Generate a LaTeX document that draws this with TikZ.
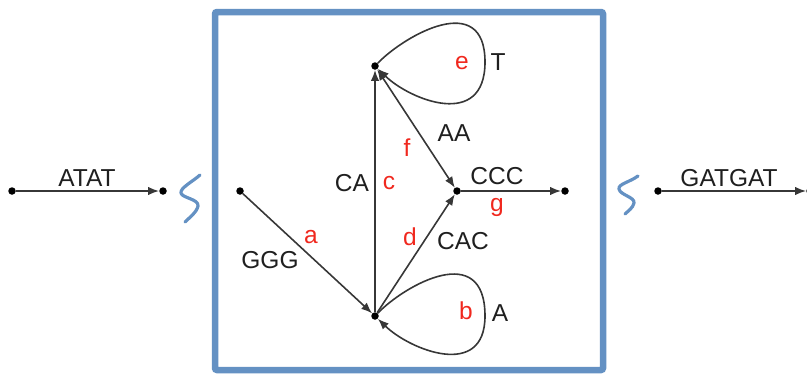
\documentclass[tikz,border=0pt]{standalone}
\usepackage{fontspec}
\setmainfont{Liberation Sans}
\usetikzlibrary{arrows.meta}
\definecolor{boxblue}{RGB}{100,145,195}
\definecolor{lbred}{RGB}{240,40,30}
\definecolor{edgegray}{RGB}{55,55,55}
\tikzset{
  dot/.style={circle,fill=black,inner sep=0pt,minimum size=7.5pt},
  edge/.style={draw=edgegray,line width=1.6pt,-{Latex[length=11pt,width=8.5pt]}},
  dedge/.style={draw=edgegray,line width=1.6pt,{Latex[length=11pt,width=8.5pt]}-{Latex[length=11pt,width=8.5pt]}},
  lbl/.style={font=\fontsize{24.5}{26}\selectfont,text=black!88,inner sep=0pt},
  rlbl/.style={font=\fontsize{24.5}{26}\selectfont,text=lbred,inner sep=0pt},
  squig/.style={draw=boxblue,line width=3.2pt,line cap=round,line join=round},
}
\begin{document}
\begin{tikzpicture}[x=1pt,y=-1pt]
\useasboundingbox (0,0) rectangle (807,375);
% frame
\draw[boxblue,line width=6.5pt,rounded corners=2pt] (215,12) rectangle (603,370);
% squiggles
\draw[squig] (200,175) .. controls (192,182) and (180,188) .. (181,193) .. controls (182,198) and (199,199) .. (198,206) .. controls (197,212) and (189,218) .. (185,222);
\draw[squig] (638,176) .. controls (630,182) and (618,184) .. (619,189) .. controls (620,195) and (635,197) .. (634,203) .. controls (633,208) and (628,211) .. (625,214);
% nodes
\node[dot] (l1) at (12,191) {};
\node[dot] (l2) at (163,191) {};
\node[dot] (s) at (240,191) {};
\node[dot] (B) at (375,316) {};
\node[dot] (T) at (375,66) {};
\node[dot] (M) at (457,191) {};
\node[dot] (R) at (565,191) {};
\node[dot] (r1) at (658,191) {};
\node[dot] (r2) at (810,191) {};
\coordinate (te) at (485,62);
\coordinate (be) at (485,316);
% edges
\draw[edge] (l1) -- (l2);
\draw[edge] (r1) -- (r2);
\draw[edge] (s) -- (B);
\draw[edge] (B) -- (T);
\draw[edge] (B) -- (M);
\draw[dedge] (T) -- (M);
\draw[edge] (M) -- (R);
\draw[edge] (T) .. controls (405,35) and (485,-10) .. (te) .. controls (485,130) and (410,100) .. (T);
\draw[edge] (B) .. controls (405,285) and (485,240) .. (be) .. controls (485,380) and (410,350) .. (B);
% labels
\node[lbl] (tATAT) at (87,178) {ATAT};
\node[lbl] (tGAT) at (729,178) {GATGAT};
\node[lbl] (tGGG) at (270,260) {GGG};
\node[rlbl] (ta) at (311,237) {a};
\node[lbl] (tCA) at (352,183) {CA};
\node[rlbl] (tc) at (389,183) {c};
\node[rlbl] (td) at (410,237) {d};
\node[lbl] (tCAC) at (463,241) {CAC};
\node[rlbl] (tf) at (407,148) {f};
\node[lbl] (tAA) at (454,133) {AA};
\node[lbl] (tCCC) at (497,176) {CCC};
\node[rlbl] (tg) at (497,207) {g};
\node[rlbl] (te2) at (462,63) {e};
\node[lbl] (tT) at (498,62) {T};
\node[rlbl] (tb) at (466,311) {b};
\node[lbl] (tA) at (500,313) {A};
\end{tikzpicture}
\end{document}
